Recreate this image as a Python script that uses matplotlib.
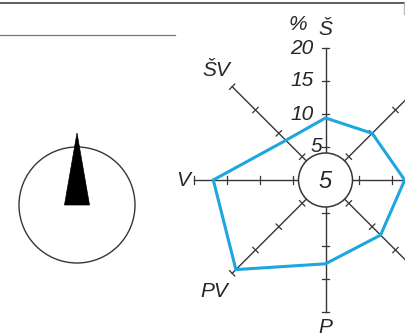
import numpy as np
import matplotlib
matplotlib.use("Agg")
import matplotlib.pyplot as plt
from matplotlib.patches import Circle, Polygon

# wind rose data (percent of time), clockwise from north
directions = ["Š", "ŠR", "R", "PR", "P", "PV", "V", "ŠV"]
angles_deg = [0, 45, 90, 135, 180, 225, 270, 315]
frequency = [9.4, 10.0, 12.0, 11.8, 12.7, 19.2, 17.0, 8.5]
calm = 5
scale_ticks = [5, 10, 15, 20]
scale_labels = ["5", "10", "15", "20"]

# layout in pixels
cx, cy = 325.5, 180.0
px_per_pct = 6.6
r_calm = 27.0
r_max = 20

blue = "#1ea6df"
ink = "#363636"
txt = "#262626"
plt.rcParams["font.family"] = ["Liberation Sans", "DejaVu Sans"]
fs = 15

fig = plt.figure(figsize=(4.05, 3.34), dpi=100)
ax = fig.add_axes([0, 0, 1, 1])
ax.set_xlim(0, 405)
ax.set_ylim(334, 0)
ax.set_aspect("equal")
ax.axis("off")


def to_xy(r_pct, ang):
    a = np.deg2rad(ang)
    r = r_pct * px_per_pct
    return cx + r * np.sin(a), cy - r * np.cos(a)


# frame lines
ax.plot([0, 405], [2.5, 2.5], color="#444444", lw=1.2, solid_capstyle="butt")
ax.plot([404, 404], [2.5, 14], color="#bbbbbb", lw=1.0)
ax.plot([0, 175], [35, 35], color="#777777", lw=0.9)

# axes of the rose
for ang in angles_deg:
    a = np.deg2rad(ang)
    x0, y0 = cx + r_calm * np.sin(a), cy - r_calm * np.cos(a)
    x1, y1 = to_xy(r_max, ang)
    ax.plot([x0, x1], [y0, y1], color=ink, lw=1.0, zorder=2)
    # perpendicular ticks
    px, py = np.cos(a), np.sin(a)
    for t in scale_ticks:
        tx, ty = to_xy(t, ang)
        h = 3.8
        ax.plot([tx - h * px, tx + h * px], [ty - h * py, ty + h * py],
                color=ink, lw=0.9, zorder=2)

# calm circle
ax.add_patch(Circle((cx, cy), r_calm, facecolor="white", edgecolor=ink,
                    lw=1.1, zorder=3))
ax.text(cx, cy + 1, str(calm), ha="center", va="center", fontsize=17,
        style="italic", color=txt, zorder=4)

# frequency polygon
pts = [to_xy(v, ang) for v, ang in zip(frequency, angles_deg)]
ax.add_patch(Polygon(pts, closed=True, fill=False, edgecolor=blue, lw=2.2,
                     joinstyle="miter", zorder=5))

# scale labels along north axis
for t, lab in zip(scale_ticks, scale_labels):
    tx, ty = to_xy(t, 0)
    xr = tx - 3 if t == 5 else tx - 12
    ax.text(xr, ty, lab, ha="right", va="center", fontsize=fs,
            style="italic", color=txt)
ax.text(307, 25, "%", ha="right", va="center", fontsize=fs,
        style="italic", color=txt)

# direction labels
label_r = {"Š": 22.8, "ŠV": 23.4, "V": 21.6, "PV": 23.9, "P": 22.3,
           "ŠR": 23.4, "R": 21.6, "PR": 23.9}
for d, ang in zip(directions, angles_deg):
    lx, ly = to_xy(label_r[d], ang)
    if lx > 395:
        continue
    ax.text(lx, ly, d, ha="center", va="center", fontsize=fs,
            style="italic", color=txt)

# compass with north arrow
ccx, ccy, cr = 77, 205, 58
ax.add_patch(Circle((ccx, ccy), cr, facecolor="white", edgecolor=ink, lw=1.0))
ax.add_patch(Polygon([(ccx - 12.5, ccy), (ccx + 12.5, ccy), (ccx, ccy - 72)],
                     closed=True, facecolor="black", edgecolor="black", lw=0.5))

fig.savefig("out.png", dpi=100)
